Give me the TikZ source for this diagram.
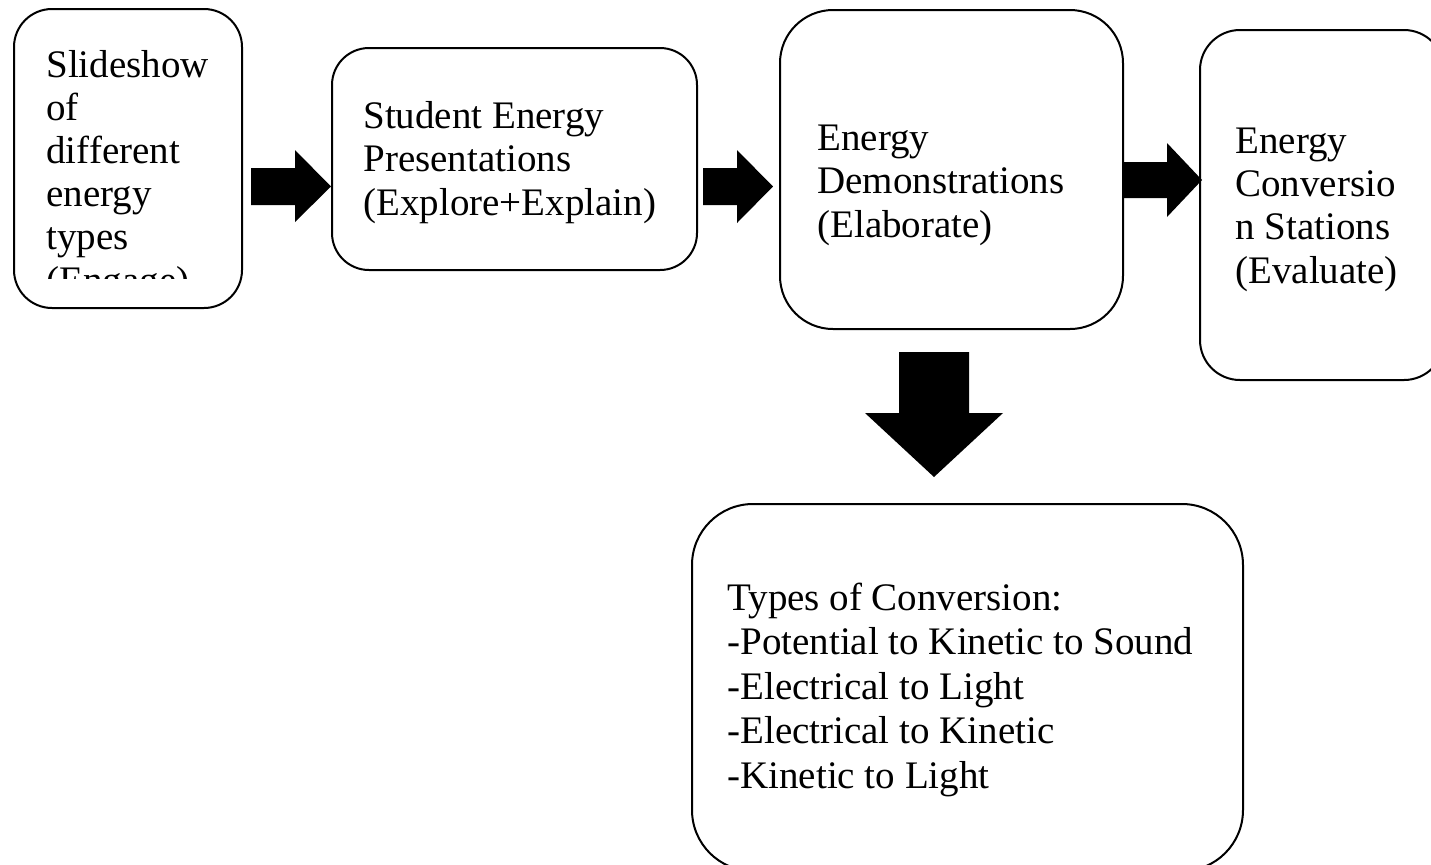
\documentclass[tikz,border=0pt]{standalone}
\usepackage{fontspec}
\setmainfont{Liberation Serif}
\begin{document}
\begin{tikzpicture}[x=0.5pt,y=-0.5pt,
  box/.style={draw=black,line width=1pt,fill=white,inner sep=0pt},
  txt/.style={anchor=base west,inner sep=0pt,align=left,
    font=\fontsize{19.5pt}{21.6pt}\selectfont},
  txtb/.style={txt,font=\fontsize{19.5pt}{22.25pt}\selectfont},
  blockarrow/.style={fill=black,draw=none}]
\clip (0,0) rectangle (1431,864);
\fill[white] (0,0) rectangle (1431,864);
% boxes
\node[box,rounded corners=19pt,minimum width=114pt,minimum height=149.5pt] (b1) at (128,158.5) {};
\node[box,rounded corners=18.5pt,minimum width=182.5pt,minimum height=111pt] (b2) at (514.5,159) {};
\node[box,rounded corners=26.5pt,minimum width=171.5pt,minimum height=159.5pt] (b3) at (951.5,169.5) {};
\node[box,rounded corners=20pt,minimum width=122pt,minimum height=175pt] (b4) at (1322,205) {};
\node[box,rounded corners=30.5pt,minimum width=275.5pt,minimum height=183.5pt] (b5) at (967.5,687.5) {};
% texts (base = baseline of the last line)
\begin{scope}
\clip (14,9) rectangle (242,278);
\node[txt] (t1) at (46,293) {Slideshow\\of\\different\\energy\\types\\(Engage)};
\end{scope}
\node[txt] (t2) at (363,215) {Student Energy\\Presentations\\(Explore+Explain)};
\node[txt] (t3) at (817,237) {Energy\\Demonstrations\\(Elaborate)};
\node[txt] (t4) at (1235,283) {Energy\\Conversio\\n Stations\\(Evaluate)};
\node[txtb] (t5) at (727,788) {Types of Conversion:\\-Potential to Kinetic to Sound\\-Electrical to Light\\-Electrical to Kinetic\\-Kinetic to Light};
% block arrows
\fill[blockarrow] (251,168) -- (295,168) -- (295,150) -- (331,186.5) -- (295,222) -- (295,205) -- (251,205) -- cycle;
\fill[blockarrow] (703,168) -- (737,168) -- (737,150) -- (773,186.5) -- (737,223) -- (737,205) -- (703,205) -- cycle;
\fill[blockarrow] (1122,162) -- (1167,162) -- (1167,143) -- (1202,180) -- (1167,217) -- (1167,198) -- (1122,198) -- cycle;
\fill[blockarrow] (899,352) -- (969,352) -- (969,413) -- (1003,413) -- (934,477) -- (865,413) -- (899,413) -- cycle;
\end{tikzpicture}
\end{document}
